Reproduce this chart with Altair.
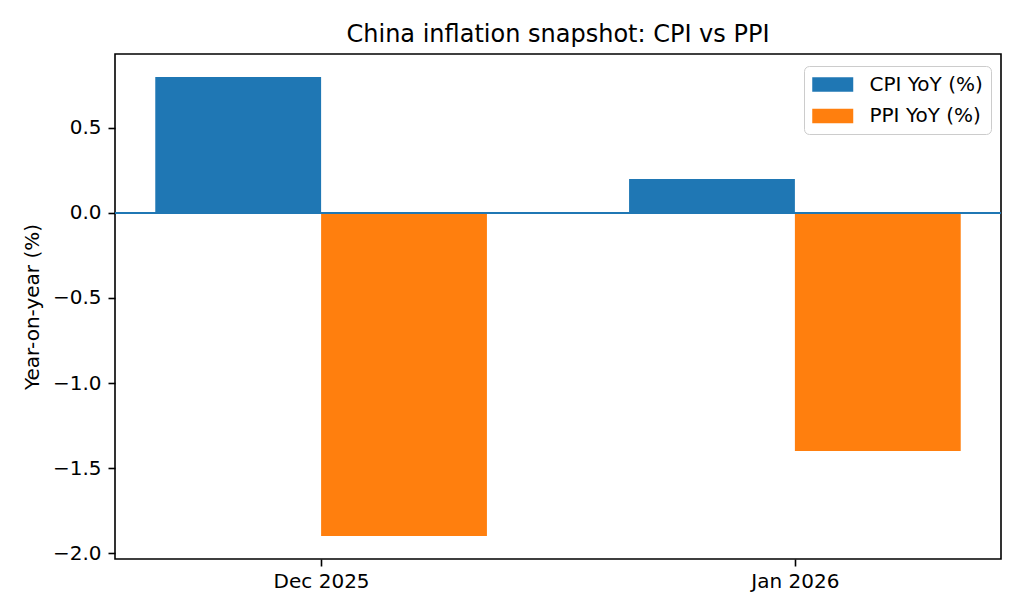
import altair as alt
import pandas as pd

months = ["Dec 2025", "Jan 2026"]
cpi = [0.8, 0.2]
ppi = [-1.9, -1.4]
series = ["CPI YoY (%)", "PPI YoY (%)"]
colors = ["#1f77b4", "#ff7f0e"]
bar_w = 0.35

rows = []
for i, m in enumerate(months):
    rows.append({"idx": i, "month": m, "series": series[0], "value": cpi[i], "off": -1})
    rows.append({"idx": i, "month": m, "series": series[1], "value": ppi[i], "off": 0})
df = pd.DataFrame(rows)

label_expr = " : ".join([f"datum.value == {i} ? '{m}'" for i, m in enumerate(months)]) + " : ''"

FONT = "DejaVu Sans"

bars = alt.Chart(df).transform_calculate(
    x0=f"datum.idx + datum.off * {bar_w}",
    x1=f"datum.idx + (datum.off + 1) * {bar_w}",
).mark_bar(strokeWidth=0).encode(
    x=alt.X("x0:Q",
            scale=alt.Scale(domain=[-0.435, 1.435], nice=False, zero=False),
            axis=alt.Axis(values=[0, 1], labelExpr=label_expr, title=None,
                          grid=False, domain=False, tickSize=7, tickWidth=1.6,
                          tickColor="black", labelFontSize=20, labelFont=FONT,
                          labelColor="black", labelPadding=5)),
    x2="x1:Q",
    y=alt.Y("value:Q",
            scale=alt.Scale(domain=[-2.035, 0.935], nice=False, zero=False),
            axis=alt.Axis(values=[-2.0, -1.5, -1.0, -0.5, 0.0, 0.5], format=".1f",
                          title="Year-on-year (%)", titleFontSize=20, titleFont=FONT,
                          titleFontWeight="normal", titleColor="black", titlePadding=10,
                          grid=False, domain=False, tickSize=7, tickWidth=1.6,
                          tickColor="black", labelFontSize=20, labelFont=FONT,
                          labelColor="black", labelPadding=7)),
    y2=alt.datum(0),
    color=alt.Color("series:N",
                    scale=alt.Scale(domain=series, range=colors),
                    legend=alt.Legend(title=None, orient="none", legendX=689, legendY=12,
                                      symbolType="M-1,-0.7L3,-0.7L3,0.7L-1,0.7Z",
                                      symbolSize=420, symbolStrokeWidth=0,
                                      labelFontSize=20, labelFont=FONT, labelColor="black",
                                      labelOffset=36.5, rowPadding=10.5, padding=8,
                                      strokeColor="#cccccc", fillColor="rgba(255,255,255,0.8)",
                                      cornerRadius=5)),
)

zero = alt.Chart(pd.DataFrame({"y": [0.0]})).mark_rule(color="#1f77b4", strokeWidth=2).encode(
    y=alt.Y("y:Q"),
)

chart = alt.layer(bars, zero).properties(
    width=886,
    height=505,
    title=alt.TitleParams("China inflation snapshot: CPI vs PPI", fontSize=24, font=FONT,
                          fontWeight="normal", color="black", offset=7),
    autosize=alt.AutoSizeParams(type="none"),
    padding={"left": 107, "top": 46, "right": 15, "bottom": 47},
    background="white",
).configure_view(stroke="black", strokeWidth=1.6)

chart.save("out.html", embed_options={"renderer": "svg", "actions": False})
